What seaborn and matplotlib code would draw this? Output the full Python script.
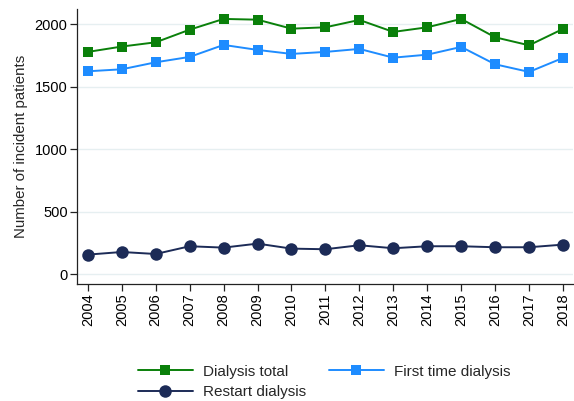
import pandas as pd
import numpy as np
import matplotlib
matplotlib.use("Agg")
import matplotlib.pyplot as plt
import seaborn as sns

# values
years = list(range(2004, 2019))
dialysis_total = [1779, 1822, 1856, 1957, 2043, 2037, 1965, 1976, 2035, 1939, 1976, 2043, 1896, 1832, 1963]
first_time = [1624, 1640, 1696, 1739, 1835, 1795, 1763, 1779, 1803, 1733, 1757, 1819, 1680, 1619, 1731]
restart = [157, 178, 162, 224, 213, 245, 205, 200, 232, 208, 224, 224, 216, 216, 237]

series_names = ["Dialysis total", "First time dialysis", "Restart dialysis"]
colors = {"Dialysis total": "#0a800a", "First time dialysis": "#1e8cff", "Restart dialysis": "#1c2b57"}
markers = {"Dialysis total": "s", "First time dialysis": "s", "Restart dialysis": "o"}
sizes = {"Dialysis total": 7.5, "First time dialysis": 7.5, "Restart dialysis": 9}

# long format for seaborn
df = pd.DataFrame({
    "year": years * 3,
    "patients": dialysis_total + first_time + restart,
    "series": np.repeat(series_names, len(years)),
})

sns.set_theme(style="white")
plt.rcParams["font.family"] = ["Liberation Sans", "DejaVu Sans"]

fig = plt.figure(figsize=(5.74, 4.01), dpi=100)
ax = fig.add_axes([0.1347, 0.2918, 0.8633, 0.685])

for name in series_names:
    sub = df[df["series"] == name]
    sns.lineplot(data=sub, x="year", y="patients", ax=ax, color=colors[name],
                 marker=markers[name], markersize=sizes[name], markeredgewidth=0,
                 linewidth=1.4, label=name)

ax.set_xlim(2003.69, 2018.29)
ax.set_ylim(-78, 2120)
ax.set_xticks(years)
ax.set_xticklabels([str(y) for y in years], rotation=90, fontsize=10.5)
ax.set_yticks([0, 500, 1000, 1500, 2000])
ax.set_yticklabels(["0", "500", "1000", "1500", "2000"], fontsize=10.5)
ax.set_xlabel("")
ax.set_ylabel("Number of incident patients", fontsize=10.8, labelpad=5)

ax.grid(axis="y", color="#e6eff1", linewidth=1)
ax.grid(axis="x", visible=False)
for side in ["top", "right"]:
    ax.spines[side].set_visible(False)
for side in ["left", "bottom"]:
    ax.spines[side].set_color("#222222")
    ax.spines[side].set_linewidth(0.9)
ax.tick_params(axis="both", which="major", direction="out", length=5, width=0.9,
               color="#222222", labelcolor="black", left=True, bottom=True, pad=2)

# legend filled row by row like the reference: total, first | restart
handles, labels = ax.get_legend_handles_labels()
order = [0, 2, 1]
ax.get_legend().remove()
fig.legend([handles[i] for i in order], [labels[i] for i in order],
           loc="center", bbox_to_anchor=(324 / 574, 0.0474), ncol=2, frameon=False,
           fontsize=11, handlelength=3.6, handletextpad=0.65, columnspacing=1.5,
           labelspacing=0.45)

fig.savefig("out.png", dpi=100)
